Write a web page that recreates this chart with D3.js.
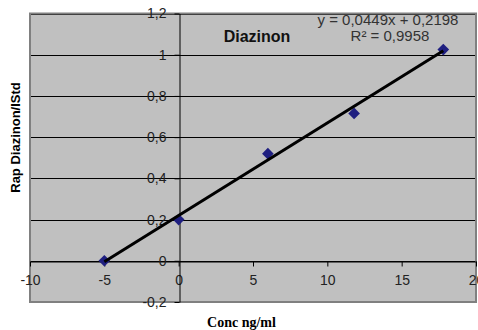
<!DOCTYPE html>
<html>
<head>
<meta charset="utf-8">
<script src="https://cdn.jsdelivr.net/npm/d3@7"></script>
<style>
  body { margin: 0; background: #fff; }
  svg { display: block; font-family: Arial, "Liberation Sans", sans-serif; }
</style>
</head>
<body>
<div id="chart"></div>
<script>
// calibration points (Conc ng/ml vs Rap Diazinon/IStd)
const conc = [-5, 0, 6, 11.8, 17.8];
const ratio = [0, 0.2, 0.52, 0.715, 1.025];

// trendline as printed on the chart
const slope = 0.0449;
const intercept = 0.2198;
const rSquared = 0.9958;

const xTicks = [-10, -5, 0, 5, 10, 15, 20];
const yTicks = [-0.2, 0, 0.2, 0.4, 0.6, 0.8, 1, 1.2];

const width = 478;
const height = 330;
const plot = { left: 30, right: 476, top: 13.5, bottom: 302 };

const fmt = d => String(+d.toFixed(4)).replace('.', ',');

const svg = d3.select('#chart')
  .append('svg')
  .attr('width', width)
  .attr('height', height);

const x = d3.scaleLinear()
  .domain([xTicks[0], xTicks[xTicks.length - 1]])
  .range([plot.left, plot.right]);

const y = d3.scaleLinear()
  .domain([yTicks[0], yTicks[yTicks.length - 1]])
  .range([plot.bottom, plot.top]);

// plot area
svg.append('rect')
  .attr('x', plot.left)
  .attr('y', plot.top)
  .attr('width', plot.right - plot.left)
  .attr('height', plot.bottom - plot.top)
  .attr('fill', '#c0c0c0');

// horizontal gridlines
svg.append('g')
  .selectAll('line')
  .data(yTicks.slice(1))
  .enter().append('line')
  .attr('x1', plot.left)
  .attr('x2', plot.right)
  .attr('y1', d => Math.round(y(d)) + 0.5)
  .attr('y2', d => Math.round(y(d)) + 0.5)
  .attr('stroke', '#000')
  .attr('stroke-width', 1);

// border of plot area
svg.append('rect')
  .attr('x', plot.left)
  .attr('y', plot.top)
  .attr('width', plot.right - plot.left)
  .attr('height', plot.bottom - plot.top)
  .attr('fill', 'none')
  .attr('stroke', '#808080')
  .attr('stroke-width', 2);

// axes crossing at zero
const xAxis = svg.append('g')
  .attr('transform', `translate(0,${Math.round(y(0)) + 0.5})`)
  .call(d3.axisBottom(x).tickValues(xTicks).tickFormat(fmt).tickSize(5).tickPadding(9).tickSizeOuter(0));

const yAxis = svg.append('g')
  .attr('transform', `translate(${Math.round(x(0)) + 0.5},0)`)
  .call(d3.axisLeft(y).tickValues(yTicks).tickFormat(fmt).tickSize(5).tickPadding(8).tickSizeOuter(0));

[xAxis, yAxis].forEach(g => {
  g.select('.domain').attr('stroke', '#000');
  g.selectAll('.tick line').attr('stroke', '#000');
  g.selectAll('.tick text')
    .attr('fill', '#222')
    .style('font-size', '14px')
    .style('font-family', 'Arial, "Liberation Sans", sans-serif');
});

// markers
svg.append('g')
  .selectAll('path')
  .data(conc.map((c, i) => ({ c, r: ratio[i] })))
  .enter().append('path')
  .attr('d', d3.symbol().type(d3.symbolSquare).size(68))
  .attr('transform', d => `translate(${x(d.c)},${y(d.r)}) rotate(45)`)
  .attr('fill', '#1f1f80');

// linear trendline over data extent
const ext = d3.extent(conc);
svg.append('line')
  .attr('x1', x(ext[0]))
  .attr('y1', y(slope * ext[0] + intercept))
  .attr('x2', x(ext[1]))
  .attr('y2', y(slope * ext[1] + intercept))
  .attr('stroke', '#000')
  .attr('stroke-width', 3);

// title
svg.append('text')
  .attr('x', 257)
  .attr('y', 42)
  .attr('text-anchor', 'middle')
  .attr('font-size', '16px')
  .attr('font-weight', 'bold')
  .attr('fill', '#111')
  .text('Diazinon');

// equation
svg.append('text')
  .attr('x', 388)
  .attr('y', 25)
  .attr('text-anchor', 'middle')
  .attr('font-size', '15px')
  .attr('fill', '#333')
  .text(`y = ${fmt(slope)}x + ${fmt(intercept)}`);

svg.append('text')
  .attr('x', 390)
  .attr('y', 41)
  .attr('text-anchor', 'middle')
  .attr('font-size', '15px')
  .attr('fill', '#333')
  .text(`R² = ${fmt(rSquared)}`);

// axis titles
svg.append('text')
  .attr('transform', 'translate(19.5,137.5) rotate(-90)')
  .attr('text-anchor', 'middle')
  .attr('font-size', '13px')
  .attr('font-weight', 'bold')
  .attr('fill', '#000')
  .text('Rap Diazinon/IStd');

svg.append('text')
  .attr('x', 241.5)
  .attr('y', 327)
  .attr('text-anchor', 'middle')
  .attr('font-size', '14px')
  .attr('font-weight', 'bold')
  .attr('font-family', '"Liberation Serif", "Times New Roman", serif')
  .attr('fill', '#000')
  .text('Conc ng/ml');
</script>
</body>
</html>
